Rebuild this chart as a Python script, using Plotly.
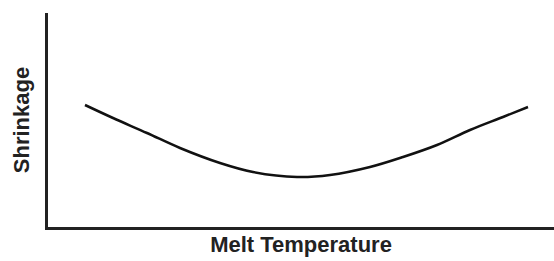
import plotly.graph_objects as go

# Melt temperature (arbitrary units) vs shrinkage (arbitrary units)
melt_temperature = [37, 65, 99, 132, 172, 205, 249, 282, 322, 355, 389, 422, 455, 480]
shrinkage = [122, 109, 94, 79, 64, 55, 50, 52, 60, 70, 82, 97, 110, 120]

fig = go.Figure()
fig.add_trace(go.Scatter(
    x=melt_temperature, y=shrinkage, mode="lines",
    line=dict(color="#111111", width=2.5, shape="spline", smoothing=1.0),
    hoverinfo="skip", showlegend=False,
))

title_font = dict(family="Liberation Sans, Arial, sans-serif", size=22, color="#222222")
fig.update_layout(
    width=554, height=261,
    margin=dict(l=48, r=0, t=13, b=34),
    paper_bgcolor="white", plot_bgcolor="white",
    xaxis=dict(range=[0, 506], showgrid=False, zeroline=False, showticklabels=False,
               ticks="", showline=True, linecolor="#222222", linewidth=3, automargin=False,
               title=dict(text="<b>Melt Temperature</b>", font=title_font, standoff=8)),
    yaxis=dict(range=[0, 214], showgrid=False, zeroline=False, showticklabels=False,
               ticks="", showline=True, linecolor="#222222", linewidth=3, automargin=False,
               title=dict(text="<b>Shrinkage</b>", font=title_font, standoff=10)),
)
fig.write_html("out.html", config={"displayModeBar": False},
               post_script="document.body.style.margin='0';document.body.style.overflow='hidden';")
